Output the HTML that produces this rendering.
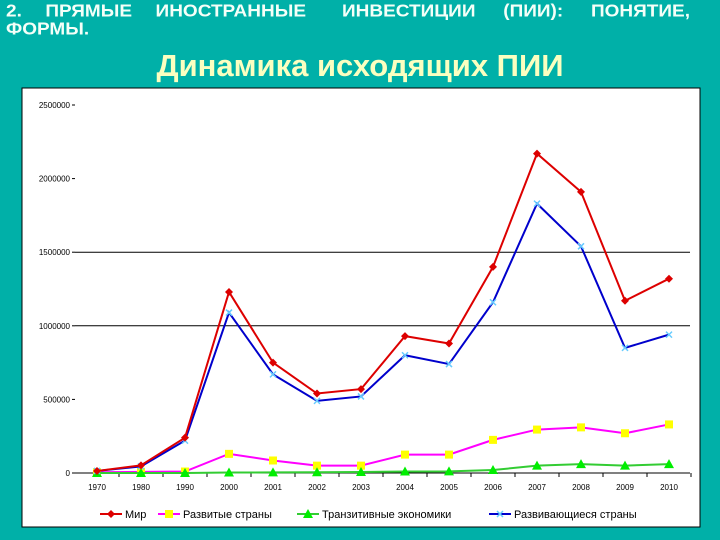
<!DOCTYPE html>
<html><head><meta charset="utf-8"><style>
body{margin:0;width:720px;height:540px;background:#00b0a8;position:relative;overflow:hidden;font-family:"Liberation Sans",sans-serif}
.h{position:absolute;color:#f4fff8;font-weight:bold;font-size:19px;line-height:19px;white-space:nowrap;display:flex;justify-content:space-between;transform:scaleY(0.9);transform-origin:top left}
.t2{position:absolute;left:0;width:720px;top:48px;text-align:center;color:#fbffc0;font-weight:bold;font-size:31px}
svg{position:absolute;left:0;top:0}
</style></head><body>
<div>
<div class="h" style="left:6px;top:3px;width:300px"><span>2.</span><span>ПРЯМЫЕ</span><span>ИНОСТРАННЫЕ</span></div>
<div class="h" style="left:342px;top:3px;width:348px"><span>ИНВЕСТИЦИИ</span><span>(ПИИ):</span><span>ПОНЯТИЕ,</span></div>
<div class="h" style="left:6px;top:21px">ФОРМЫ.</div>
</div>
<div class="t2">Динамика исходящих ПИИ</div>
<svg id="c" width="720" height="540"></svg>
<script>
const categories=["1970","1980","1990","2000","2001","2002","2003","2004","2005","2006","2007","2008","2009","2010"];
const world=[14000,52000,240000,1230000,750000,540000,570000,930000,880000,1400000,2170000,1910000,1170000,1320000];
const developed=[5000,8000,10000,130000,85000,50000,50000,125000,125000,225000,295000,310000,270000,330000];
const transition=[0,0,0,3000,4000,5000,7000,10000,11000,20000,50000,60000,50000,60000];
const developing=[14000,45000,220000,1090000,670000,490000,520000,800000,740000,1160000,1830000,1540000,850000,940000];
const yTicks=[0,500000,1000000,1500000,2000000,2500000];
const gridVals=[1000000,1500000];
const NS="http://www.w3.org/2000/svg";const s=document.getElementById('c');
function el(t,a,p){const e=document.createElementNS(NS,t);for(const k in a)e.setAttribute(k,a[k]);(p||s).appendChild(e);return e;}
const X=i=>97+i*44, Y=v=>473-v*(368/2500000);
const fr=el('rect',{x:22,y:88,width:678,height:439,fill:'#fff',stroke:'#000','stroke-width':1});


gridVals.forEach(v=>{const g=el('line',{x1:75,x2:690,y1:Y(v),y2:Y(v),stroke:'#000','stroke-width':1});

});
el('line',{x1:75,x2:690,y1:473,y2:473,stroke:'#000'});
yTicks.forEach(v=>{const t=el('text',{x:70,y:Y(v)+3,'text-anchor':'end','font-size':8,fill:'#000'});t.textContent=v;


el('line',{x1:72,x2:75,y1:Y(v),y2:Y(v),stroke:'#000'});});
categories.forEach((c,i)=>{const t=el('text',{x:X(i),y:490,'text-anchor':'middle','font-size':8,fill:'#000'});t.textContent=c;


el('line',{x1:X(i)+22,x2:X(i)+22,y1:473,y2:477,stroke:'#000'});});
function marker(type,x,y,col,g){
 if(type==='d')el('path',{d:`M${x} ${y-4}L${x+4} ${y}L${x} ${y+4}L${x-4} ${y}Z`,fill:col},g);
 else if(type==='s')el('rect',{x:x-4,y:y-4,width:8,height:8,fill:col},g);
 else if(type==='t')el('path',{d:`M${x} ${y-5}L${x+5} ${y+4}L${x-5} ${y+4}Z`,fill:col},g);
 else{el('path',{d:`M${x-3} ${y-3}L${x+3} ${y+3}M${x+3} ${y-3}L${x-3} ${y+3}`,stroke:col,'stroke-width':1.5},g);}
}
const series=[["developed",developed,'#ff00ff','#ffff00','s'],["transition",transition,'#33cc33','#00ee00','t'],["developing",developing,'#0000cc','#66ccff','x'],["world",world,'#dd0000','#dd0000','d']];
series.forEach(([n,d,col,mc,m])=>{const g=el('g',{});


el('polyline',{points:d.map((v,i)=>X(i)+','+Y(v)).join(' '),fill:'none',stroke:col,'stroke-width':2},g);
d.forEach((v,i)=>marker(m,X(i),Y(v),mc,g));});
const leg=[["Мир",'#dd0000','#dd0000','d',100],["Развитые страны",'#ff00ff','#ffff00','s',158],["Транзитивные экономики",'#33cc33','#00ee00','t',297],["Развивающиеся страны",'#0000cc','#66ccff','x',489]];
leg.forEach(([n,col,mc,m,x])=>{const g=el('g',{});


el('line',{x1:x,x2:x+22,y1:514,y2:514,stroke:col,'stroke-width':2},g);marker(m,x+11,514,mc,g);
const t=el('text',{x:x+25,y:518,'font-size':11,fill:'#000'},g);t.textContent=n;});
</script>
</body></html>
